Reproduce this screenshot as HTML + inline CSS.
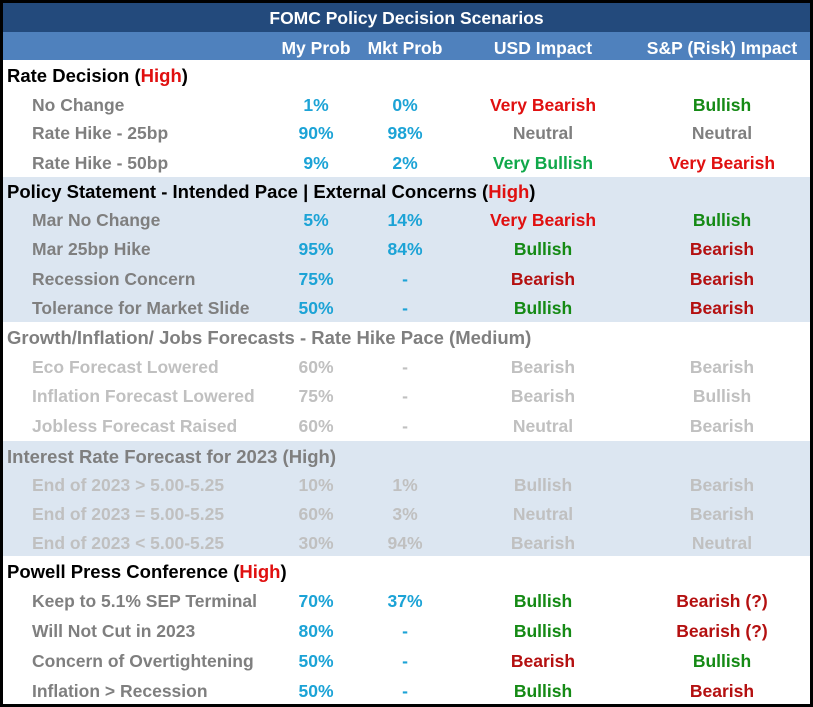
<!DOCTYPE html>
<html><head><meta charset="utf-8">
<style>
body{margin:0;background:#fff;}
#t{position:relative;width:813px;height:707px;font-family:"Liberation Sans",sans-serif;font-weight:bold;font-size:17.5px;overflow:hidden;}
.frame{position:absolute;left:0;top:0;width:807px;height:701px;border:3px solid #000;}
.row{position:absolute;left:3px;width:807px;}
.c{position:absolute;top:1px;white-space:nowrap;transform:translateX(-50%);}
.l{position:absolute;top:1px;white-space:nowrap;}
</style></head><body>
<div id="t">
<div class="row" style="top:3px;height:29px;line-height:30px;background:#234a7c;color:#fff;text-align:center;font-size:17.5px">FOMC Policy Decision Scenarios</div>
<div class="row" style="top:32px;height:28px;line-height:30px;background:#4f81bd;color:#fff">
<span class="c" style="left:313px">My Prob</span>
<span class="c" style="left:402px">Mkt Prob</span>
<span class="c" style="left:540px">USD Impact</span>
<span class="c" style="left:719px">S&amp;P (Risk) Impact</span>
</div>
<div id="body"></div>
<div class="frame"></div>
</div>
<script>
const B=[60,90,118,147,177,205,233,263,293,322,352,380,410,441,470,499,528,556,586,615,645,675,705];
const K='#000',R='#e01010',DR='#b41010',G='#158a15',LG='#10a84a',N='#7f7f7f',C='#1ca3d6',F='#c0c0c0',H='#7f7f7f';
const rows=[
['h','Rate Decision ',K,'High',0],
['r','No Change','1%','0%',['Very Bearish',R],['Bullish',G],0],
['r','Rate Hike - 25bp','90%','98%',['Neutral',N],['Neutral',N],0],
['r','Rate Hike - 50bp','9%','2%',['Very Bullish',LG],['Very Bearish',R],0],
['h','Policy Statement - Intended Pace | External Concerns ',K,'High',1],
['r','Mar No Change','5%','14%',['Very Bearish',R],['Bullish',G],1],
['r','Mar 25bp Hike','95%','84%',['Bullish',G],['Bearish',DR],1],
['r','Recession Concern','75%','-',['Bearish',DR],['Bearish',DR],1],
['r','Tolerance for Market Slide','50%','-',['Bullish',G],['Bearish',DR],1],
['h','Growth/Inflation/ Jobs Forecasts - Rate Hike Pace (Medium)',H,null,0],
['f','Eco Forecast Lowered','60%','-',['Bearish',F],['Bearish',F],0],
['f','Inflation Forecast Lowered','75%','-',['Bearish',F],['Bullish',F],0],
['f','Jobless Forecast Raised','60%','-',['Neutral',F],['Bearish',F],0],
['h','Interest Rate Forecast for 2023 (High)',H,null,1],
['f','End of 2023 > 5.00-5.25','10%','1%',['Bullish',F],['Bearish',F],1],
['f','End of 2023 = 5.00-5.25','60%','3%',['Neutral',F],['Bearish',F],1],
['f','End of 2023 < 5.00-5.25','30%','94%',['Bearish',F],['Neutral',F],1],
['h','Powell Press Conference ',K,'High',0],
['r','Keep to 5.1% SEP Terminal','70%','37%',['Bullish',G],['Bearish (?)',DR],0],
['r','Will Not Cut in 2023','80%','-',['Bullish',G],['Bearish (?)',DR],0],
['r','Concern of Overtightening','50%','-',['Bearish',DR],['Bullish',G],0],
['r','Inflation > Recession','50%','-',['Bullish',G],['Bearish',DR],0]
];
const body=document.getElementById('body');
function span(parent,cls,left,text,color,name){
  const s=document.createElement('span');
  s.className=cls;s.style.left=left+'px';s.style.color=color;s.textContent=text;
  
  
  parent.appendChild(s);return s;
}
rows.forEach((r,i)=>{
  const d=document.createElement('div');
  d.className='row';
  const h=B[i+1]-B[i];
  d.style.top=B[i]+'px';d.style.height=h+'px';d.style.lineHeight=h+'px';
  const shaded=r[0]==='h'?r[4]:r[6];
  if(shaded)d.style.background='#dce6f1';
  if(r[0]==='h'){
    
    
    const s=span(d,'l',4,r[1],r[2],'section-title');
    s.style.fontSize='18.5px';
    if(r[3]){
      s.appendChild(document.createTextNode('('));
      const hi=document.createElement('span');hi.style.color=R;hi.textContent=r[3];
      
      
      s.appendChild(hi);s.appendChild(document.createTextNode(')'));
    }
  }else{
    
    
    const fd=r[0]==='f';
    span(d,'l',29,r[1],fd?F:'#7f7f7f','scenario-label');
    span(d,'c',313,r[2],fd?F:C,'my-prob');
    span(d,'c',402,r[3],fd?F:C,'mkt-prob');
    span(d,'c',540,r[4][0],r[4][1],'usd-impact');
    span(d,'c',719,r[5][0],r[5][1],'sp-impact');
  }
  body.appendChild(d);
});
</script>
</body></html>
